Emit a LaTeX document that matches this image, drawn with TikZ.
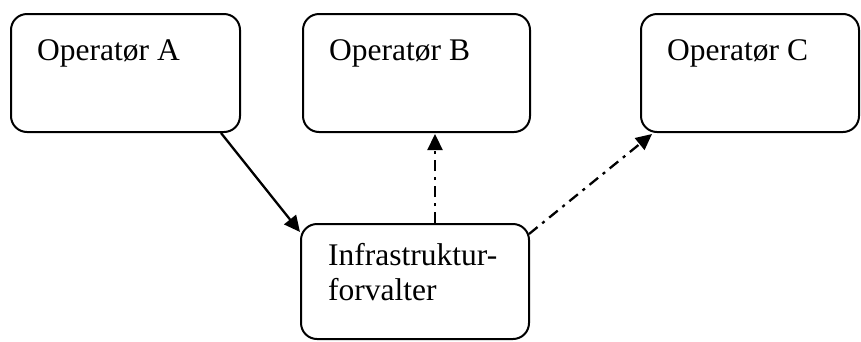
\documentclass[tikz,border=0pt]{standalone}
\usepackage{fontspec}
\setmainfont{Liberation Serif}
\usetikzlibrary{arrows.meta,calc}
\begin{document}
\begin{tikzpicture}[x=1pt,y=-1pt,
  box/.style={draw,line width=2pt,rounded corners=16pt,minimum width=#1,minimum height=118pt,inner sep=0pt},
  box/.default=229pt,
  txt/.style={anchor=base west,inner sep=0pt,font=\fontsize{31.5}{35}\selectfont,align=left},
  link/.style={line width=2.3pt,-{Triangle[length=16pt,width=15pt]}},
  dashdot/.style={dash pattern=on 11pt off 6pt on 3pt off 6pt}]
  \useasboundingbox (0,0) rectangle (861,341);
  % boxes
  \node[box] (A) at (125.5,73) {};
  \node[box=227pt] (B) at (416.5,73) {};
  \node[box=218pt] (C) at (750,73) {};
  \node[box=228pt,minimum height=115pt] (I) at (415,281.5) {};
  % texts
  \node[txt] (tA) at (37,60) {Operatør A};
  \node[txt] (tB) at (329,60) {Operatør B};
  \node[txt] (tC) at (667,60) {Operatør C};
  \node[txt,anchor=north west] (tI) at (328,243) {Infrastruktur-\\forvalter};
  % connectors
  \draw[link] ($(A.south east)+(-20,0)$) -- ($(I.north west)+(0,9)$);
  \draw[link,dashdot] ($(I.north)+(20,0)$) -- ($(B.south)+(18.5,1)$);
  \draw[link,dashdot] ($(I.north east)+(-1,11)$) -- ($(C.south west)+(12,1)$);
\end{tikzpicture}
\end{document}
